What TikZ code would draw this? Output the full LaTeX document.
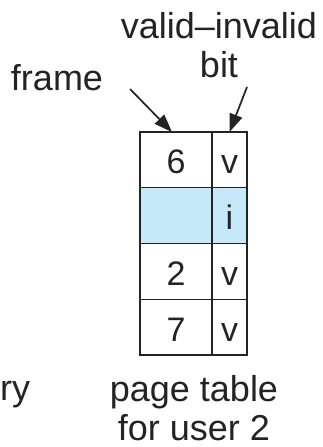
\documentclass[tikz,border=0pt]{standalone}
\usepackage{fontspec}
\setmainfont{Liberation Sans}
\usetikzlibrary{arrows.meta}
\definecolor{invalidblue}{RGB}{198,233,250}
\definecolor{inkgray}{RGB}{35,35,35}

\begin{document}
\begin{tikzpicture}[x=1pt,y=1pt,
    label/.style={font=\fontsize{36}{39}\selectfont, text=inkgray, inner sep=0pt, align=center},
    cell/.style={draw=inkgray, line width=1.2pt, minimum height=55.75pt, inner sep=0pt, outer sep=0pt,
        text height=28pt, text depth=0pt, font=\fontsize{34}{34}\selectfont, text=inkgray},
    framecell/.style={cell, minimum width=72pt},
    bitcell/.style={cell, minimum width=35pt},
    pointer/.style={draw=inkgray, line width=1.7pt, -{Triangle[length=18pt,width=13pt]}}]
    \useasboundingbox (0,0) rectangle (322,-447);
    % page table for user 2
    \node[framecell] (f1) at (176,-159.9) {6};
    \node[bitcell] (b1) at (229.5,-159.9) {v};
    \node[framecell, fill=invalidblue] (f2) at (176,-215.6) {};
    \node[bitcell, fill=invalidblue] (b2) at (229.5,-215.6) {i};
    \node[framecell] (f3) at (176,-271.4) {2};
    \node[bitcell] (b3) at (229.5,-271.4) {v};
    \node[framecell] (f4) at (176,-327.1) {7};
    \node[bitcell] (b4) at (229.5,-327.1) {v};
    % labels (base = last line)
    \node[label, anchor=base] (frame) at (57,-90) {frame};
    \node[label, anchor=base] (validbit) at (219,-77) {valid--invalid\\bit};
    \node[label, anchor=base] (table) at (194,-440) {page table\\for user 2};
    \node[label, anchor=base west] (memory) at (0,-400) {ry};
    % pointers
    \coordinate (frametail) at (130,-89);
    \coordinate (bittail) at (247,-87);
    \draw[pointer] (frametail) -- ([xshift=-4pt]f1.north);
    \draw[pointer] (bittail) -- (b1.north);
\end{tikzpicture}
\end{document}
